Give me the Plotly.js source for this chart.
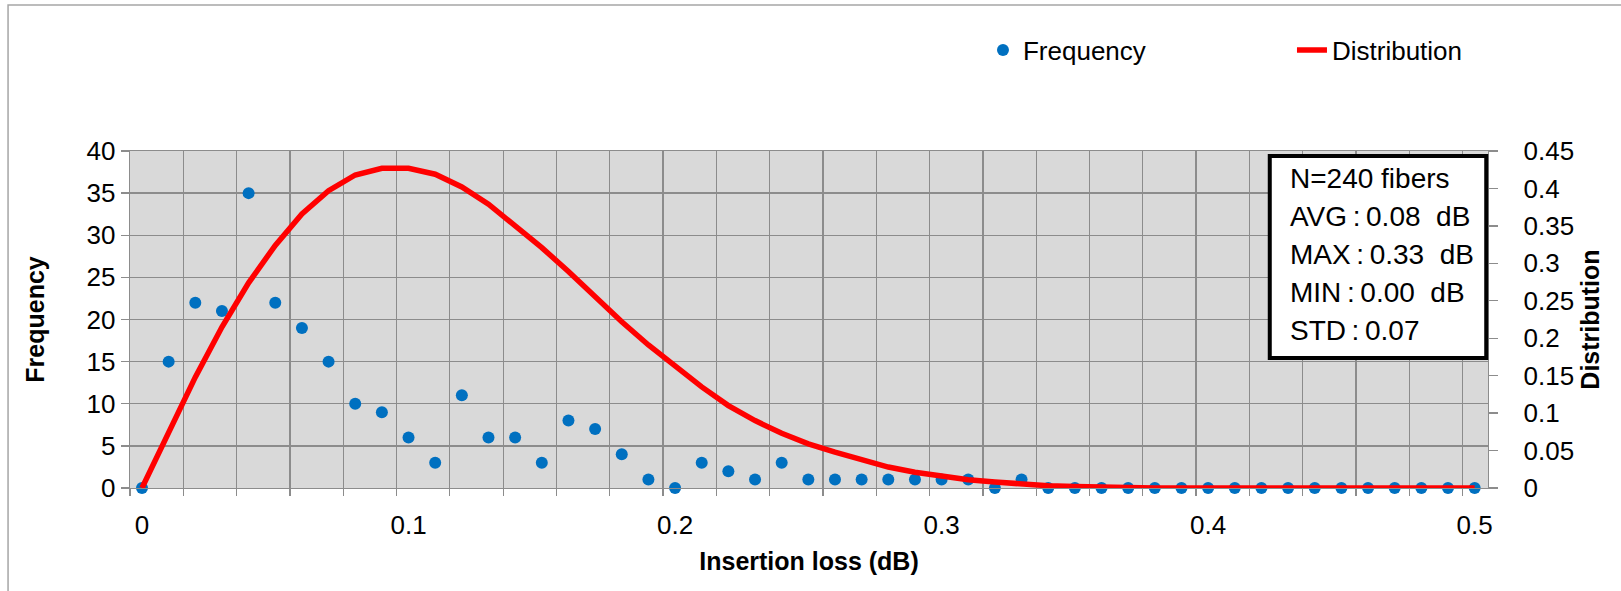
<!DOCTYPE html>
<html>
<head>
<meta charset="utf-8">
<script src="https://cdn.plot.ly/plotly-3.0.1.min.js"></script>
<style>
  html, body { margin: 0; padding: 0; background: #ffffff; }
  #chart { width: 1621px; height: 591px; }
</style>
</head>
<body>
<div id="chart"></div>
<script>
// Insertion loss bins (dB)
const lossBins = [0, 0.01, 0.02, 0.03, 0.04, 0.05, 0.06, 0.07, 0.08, 0.09,
  0.10, 0.11, 0.12, 0.13, 0.14, 0.15, 0.16, 0.17, 0.18, 0.19,
  0.20, 0.21, 0.22, 0.23, 0.24, 0.25, 0.26, 0.27, 0.28, 0.29,
  0.30, 0.31, 0.32, 0.33, 0.34, 0.35, 0.36, 0.37, 0.38, 0.39,
  0.40, 0.41, 0.42, 0.43, 0.44, 0.45, 0.46, 0.47, 0.48, 0.49, 0.50];

// Frequency (count of fibers per bin)
const frequency = [0, 15, 22, 21, 35, 22, 19, 15, 10, 9,
  6, 3, 11, 6, 6, 3, 8, 7, 4, 1,
  0, 3, 2, 1, 3, 1, 1, 1, 1, 1,
  1, 1, 0, 1, 0, 0, 0, 0, 0, 0,
  0, 0, 0, 0, 0, 0, 0, 0, 0, 0, 0];

// Distribution curve (secondary axis)
const distribution = [0, 0.074, 0.148, 0.215, 0.274, 0.324, 0.366, 0.397, 0.418, 0.427,
  0.427, 0.419, 0.402, 0.379, 0.351, 0.321, 0.289, 0.255, 0.222, 0.191,
  0.163, 0.135, 0.110, 0.090, 0.073, 0.059, 0.048, 0.038, 0.028, 0.021,
  0.016, 0.011, 0.008, 0.005, 0.003, 0.002, 0.001, 0.001, 0, 0,
  0, 0, 0, 0, 0, 0, 0, 0, 0, 0, 0];

// Tick labels
const xTickVals = [0, 0.1, 0.2, 0.3, 0.4, 0.5];
const xTickText = ['0', '0.1', '0.2', '0.3', '0.4', '0.5'];

// Statistics box lines
const statsLines = ['N=240 fibers', 'AVG\u2009:\u20090.08\u00a0\u00a0dB', 'MAX\u2009:\u20090.33\u00a0\u00a0dB', 'MIN\u2009:\u20090.00\u00a0\u00a0dB', 'STD\u2009:\u20090.07'];

const FONT = 'Liberation Sans, Arial, sans-serif';
const GRID = '#8c8c8c';

const traces = [
  {
    name: 'Frequency',
    x: lossBins,
    y: frequency,
    type: 'scatter',
    mode: 'markers',
    marker: { color: '#0070c0', size: 12 },
    cliponaxis: false,
    xaxis: 'x',
    yaxis: 'y'
  },
  {
    name: 'Distribution',
    x: lossBins,
    y: distribution,
    type: 'scatter',
    mode: 'lines',
    line: { color: '#ff0000', width: 5.5 },
    cliponaxis: false,
    xaxis: 'x',
    yaxis: 'y2'
  }
];

// stats box: one line per annotation, evenly spaced from top line
const statsTop = 0.918, statsStep = 0.1128;
const statsAnnotations = statsLines.map((t, i) => ({
  xref: 'paper', yref: 'paper',
  x: 0.8529, y: statsTop - i * statsStep,
  xanchor: 'left', yanchor: 'middle',
  align: 'left',
  showarrow: false,
  text: t,
  font: { family: FONT, size: 28, color: '#000000' }
}));

const layout = {
  width: 1621,
  height: 591,
  margin: { l: 130, r: 133, t: 151, b: 103 },
  paper_bgcolor: '#ffffff',
  plot_bgcolor: '#d9d9d9',
  font: { family: FONT, size: 26, color: '#000000' },
  showlegend: true,
  legend: {
    orientation: 'h',
    xref: 'container', yref: 'container',
    x: 0.6064, y: 0.9154, xanchor: 'left', yanchor: 'middle',
    entrywidth: 264, entrywidthmode: 'pixels',
    bgcolor: 'rgba(0,0,0,0)',
    font: { family: FONT, size: 26, color: '#000000' }
  },
  xaxis: {
    range: [-0.0045, 0.505],
    tickmode: 'array',
    tickvals: xTickVals,
    ticktext: xTickText,
    ticks: '',
    showgrid: false,
    zeroline: false,
    showline: true,
    mirror: true,
    linecolor: GRID,
    linewidth: 1.3,
    ticklabelstandoff: 13,
    tickfont: { family: FONT, size: 26, color: '#000000' },
    minor: {
      tick0: 0.0155,
      dtick: 0.02,
      ticks: 'outside',
      ticklen: 7,
      tickcolor: GRID,
      tickwidth: 1.3,
      showgrid: true,
      gridcolor: GRID,
      gridwidth: 1.3
    },
    title: { text: '<b>Insertion loss (dB)</b>', font: { family: FONT, size: 25, color: '#000000' }, standoff: 14 }
  },
  yaxis: {
    range: [0, 40],
    dtick: 5,
    ticks: 'outside',
    ticklen: 8,
    tickcolor: GRID,
    tickwidth: 1.3,
    showgrid: true,
    gridcolor: GRID,
    gridwidth: 1.3,
    zeroline: false,
    showline: true,
    mirror: true,
    linecolor: GRID,
    linewidth: 1.3,
    tickfont: { family: FONT, size: 26, color: '#000000' },
    title: { text: '<b>Frequency</b>', font: { family: FONT, size: 25, color: '#000000' }, standoff: 34 }
  },
  yaxis2: {
    overlaying: 'y',
    side: 'right',
    range: [0, 0.45],
    dtick: 0.05,
    ticks: 'outside',
    ticklen: 9,
    tickcolor: GRID,
    tickwidth: 1.3,
    showgrid: false,
    zeroline: false,
    showline: true,
    linecolor: GRID,
    linewidth: 1.3,
    ticklabelstandoff: 20,
    tickfont: { family: FONT, size: 26, color: '#000000' },
    title: { text: '<b>Distribution</b>', font: { family: FONT, size: 25, color: '#000000' }, standoff: 8 }
  },
  shapes: [
    {
      type: 'rect', xref: 'paper', yref: 'paper',
      x0: 0.8393, x1: 0.9987, y0: 0.3858, y1: 0.9852,
      line: { color: '#000000', width: 4 },
      fillcolor: '#ffffff',
      layer: 'above'
    },
    {
      type: 'path', xref: 'paper', yref: 'paper',
      path: 'M -0.0898 -0.4 L -0.0898 1.4332 L 1.12 1.4332',
      line: { color: '#a6a6a6', width: 1.5 },
      layer: 'above'
    }
  ],
  annotations: statsAnnotations
};

Plotly.newPlot('chart', traces, layout, { displayModeBar: false, staticPlot: true });
</script>
</body>
</html>
